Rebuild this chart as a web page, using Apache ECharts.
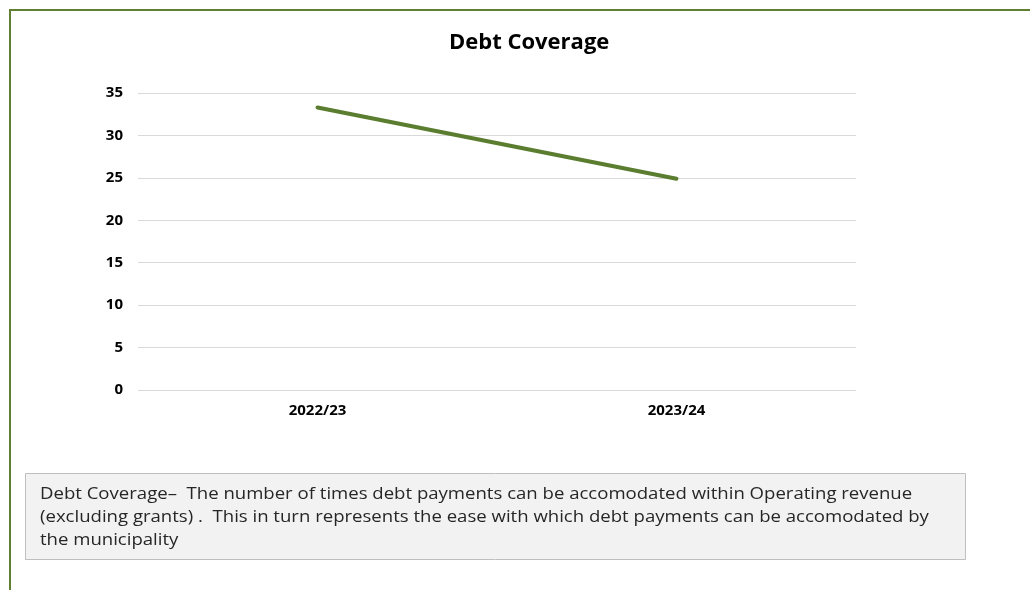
<!DOCTYPE html>
<html>
<head>
<meta charset="utf-8">
<script src="https://cdn.jsdelivr.net/npm/echarts@6/dist/echarts.min.js"></script>
<style>
  html, body { margin: 0; padding: 0; background: #fff; }
  #chart { width: 1030px; height: 590px; }
</style>
</head>
<body>
<div id="chart"></div>
<script>
// Debt coverage ratio per financial year
const years = ['2022/23', '2023/24'];
const debtCoverage = [33.3, 24.9];
const yTicks = { min: 0, max: 35, interval: 5 };

const noteLines = [
  'Debt Coverage\u2013  The number of times debt payments can be accomodated within Operating revenue',
  '(excluding grants) .  This in turn represents the ease with which debt payments can be accomodated by',
  'the municipality'
];

const chart = echarts.init(document.getElementById('chart'));
chart.setOption({
  animation: false,
  backgroundColor: '#ffffff',
  title: {
    text: 'Debt Coverage',
    left: 444,
    top: 27,
    textStyle: { fontFamily: 'Open Sans', fontWeight: 'bold', fontSize: 22, color: '#000' }
  },
  grid: { left: 138, right: 174, top: 93, bottom: 200, containLabel: false },
  xAxis: {
    type: 'category',
    data: years,
    boundaryGap: true,
    axisLine: { show: false },
    axisTick: { show: false },
    axisLabel: { margin: 13, fontFamily: 'Open Sans', fontWeight: 'bold', fontSize: 15, color: '#000' }
  },
  yAxis: {
    type: 'value',
    min: yTicks.min,
    max: yTicks.max,
    interval: yTicks.interval,
    axisLine: { show: false },
    axisTick: { show: false },
    axisLabel: { margin: 15, fontFamily: 'Open Sans', fontWeight: 'bold', fontSize: 15, color: '#000' },
    splitLine: { lineStyle: { color: '#d9d9d9', width: 1 } }
  },
  series: [{
    type: 'line',
    data: debtCoverage,
    symbol: 'none',
    lineStyle: { color: '#5a7d2f', width: 4, cap: 'round' }
  }],
  graphic: [
    {
      type: 'rect',
      shape: { x: 10, y: 10, width: 1100, height: 700 },
      style: { fill: 'none', stroke: '#5f7f35', lineWidth: 2 },
      silent: true
    },
    {
      type: 'rect',
      shape: { x: 25.5, y: 473.5, width: 940, height: 86 },
      style: { fill: '#f2f2f2', stroke: '#bfbfbf', lineWidth: 1 },
      silent: true
    },
    {
      type: 'text',
      x: 40,
      y: 483,
      scaleX: 1.16,
      style: {
        text: noteLines.join('\n'),
        fontFamily: 'Open Sans',
        fontSize: 16,
        lineHeight: 23,
        fill: '#262626'
      },
      silent: true
    }
  ]
});
</script>
</body>
</html>
